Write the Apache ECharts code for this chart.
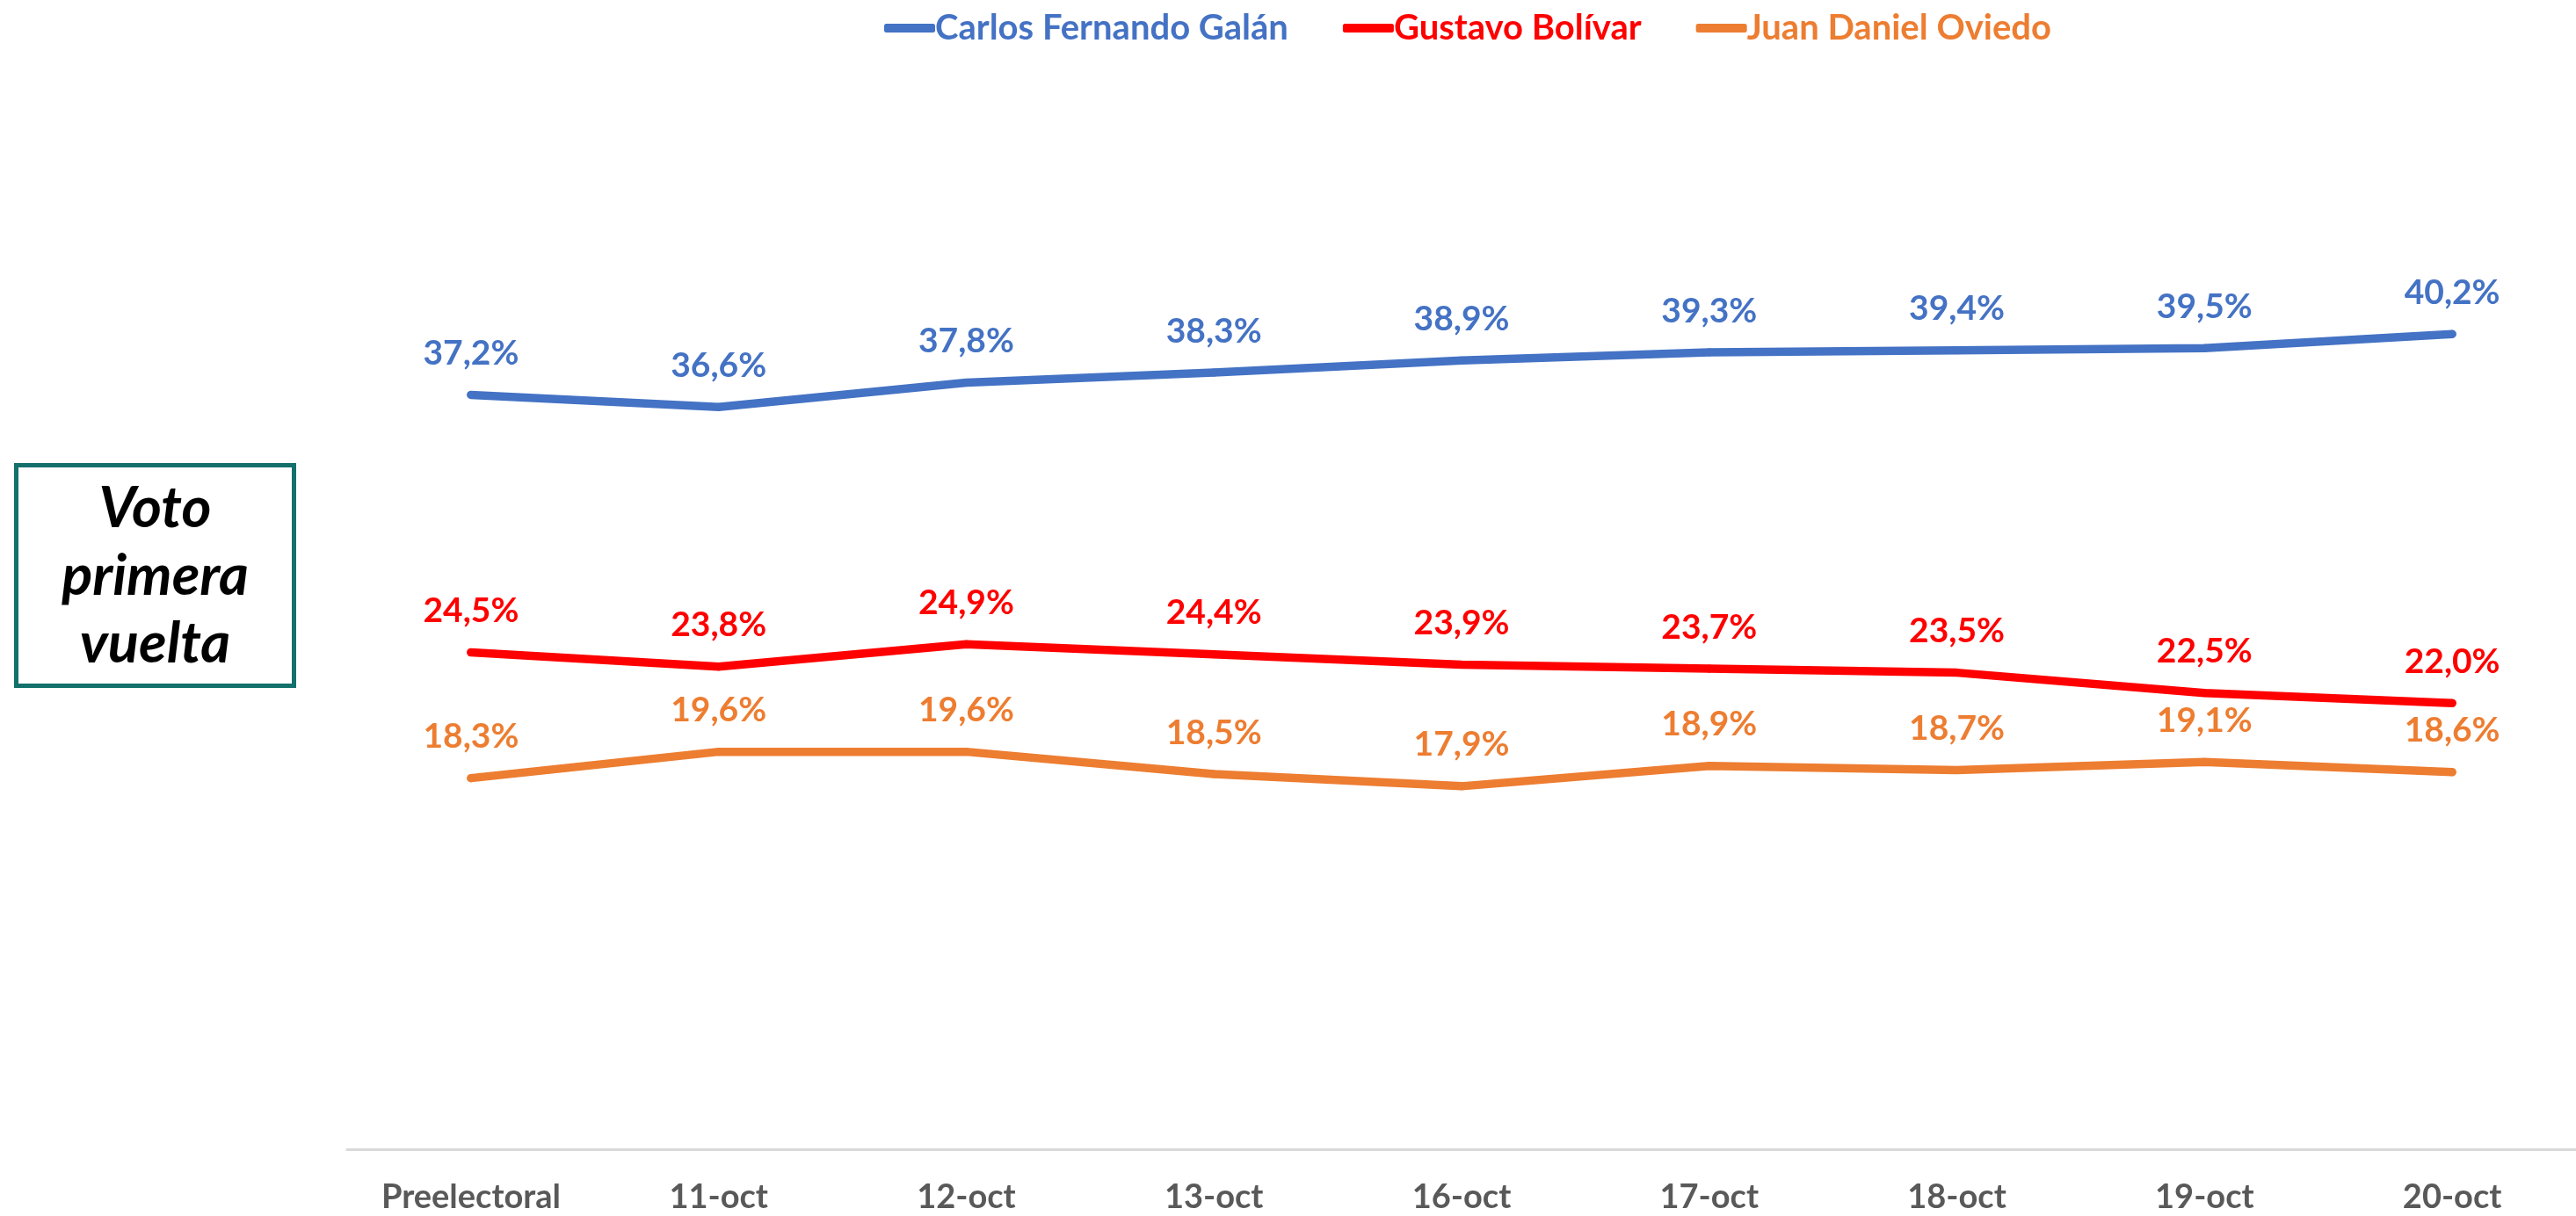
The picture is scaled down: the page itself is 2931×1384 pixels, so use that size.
<!DOCTYPE html>
<html>
<head>
<meta charset="utf-8">
<script src="https://cdn.jsdelivr.net/npm/echarts@6/dist/echarts.min.js"></script>
<style>
html,body{margin:0;padding:0;background:#fff;}
#chart{width:2931px;height:1384px;}
</style>
</head>
<body>
<div id="chart"></div>
<script>
const categories = ['Preelectoral','11-oct','12-oct','13-oct','16-oct','17-oct','18-oct','19-oct','20-oct'];
const galan   = [37.2, 36.6, 37.8, 38.3, 38.9, 39.3, 39.4, 39.5, 40.2];
const bolivar = [24.5, 23.8, 24.9, 24.4, 23.9, 23.7, 23.5, 22.5, 22.0];
const oviedo  = [18.3, 19.6, 19.6, 18.5, 17.9, 18.9, 18.7, 19.1, 18.6];
const seriesNames = ['Carlos Fernando Galán','Gustavo Bolívar','Juan Daniel Oviedo'];
const boxText = 'Voto\nprimera\nvuelta';

const FONT = 'Lato';
const colors = ['#4472C4','#FF0000','#ED7D31'];
const fmt = v => v.toFixed(1).replace('.', ',') + '%';

function mkSeries(name, data, color){
  return {
    name, type:'line', data, color,
    symbol:'circle', symbolSize:9, showSymbol:true, smooth:false,
    itemStyle:{color, borderWidth:0},
    lineStyle:{width:9.5, color, cap:'round', join:'round'},
    label:{show:true, position:'top', distance:23, color,
      fontFamily:FONT, fontWeight:'bold', fontSize:39,
      formatter:p=>fmt(p.value)},
    labelLayout:{hideOverlap:false},
    emphasis:{disabled:true}
  };
}

const chart = echarts.init(document.getElementById('chart'));
chart.setOption({
  animation:false,
  backgroundColor:'#fff',
  legend:{
    left:1001, top:7, itemGap:62, itemWidth:58, itemHeight:10,
    icon:'roundRect',
    textStyle:{fontFamily:FONT, fontWeight:'bold', fontSize:40, padding:[0,0,0,-5]},
    data:seriesNames.map((n,i)=>({name:n, itemStyle:{color:colors[i]}, textStyle:{color:colors[i]}}))
  },
  grid:{left:395, right:0, top:154, bottom:76},
  xAxis:{
    type:'category', data:categories, boundaryGap:true,
    axisLine:{lineStyle:{color:'#D9D9D9', width:3}},
    axisTick:{show:false},
    axisLabel:{color:'#595959', fontFamily:FONT, fontWeight:'bold', fontSize:38, margin:36}
  },
  yAxis:{type:'value', min:0, max:50, show:false, splitLine:{show:false}},
  series:[
    mkSeries(seriesNames[0], galan, colors[0]),
    mkSeries(seriesNames[1], bolivar, colors[1]),
    mkSeries(seriesNames[2], oviedo, colors[2])
  ],
  graphic:[
    {type:'rect', shape:{x:18.5, y:529.5, width:316, height:251},
     style:{fill:'#fff', stroke:'#13706B', lineWidth:5}},
    {type:'text', x:176.5, y:656,
     style:{text:boxText, fill:'#000', align:'center', verticalAlign:'middle',
       font:'italic bold 65px Lato', lineHeight:77}}
  ]
});
</script>
</body>
</html>
